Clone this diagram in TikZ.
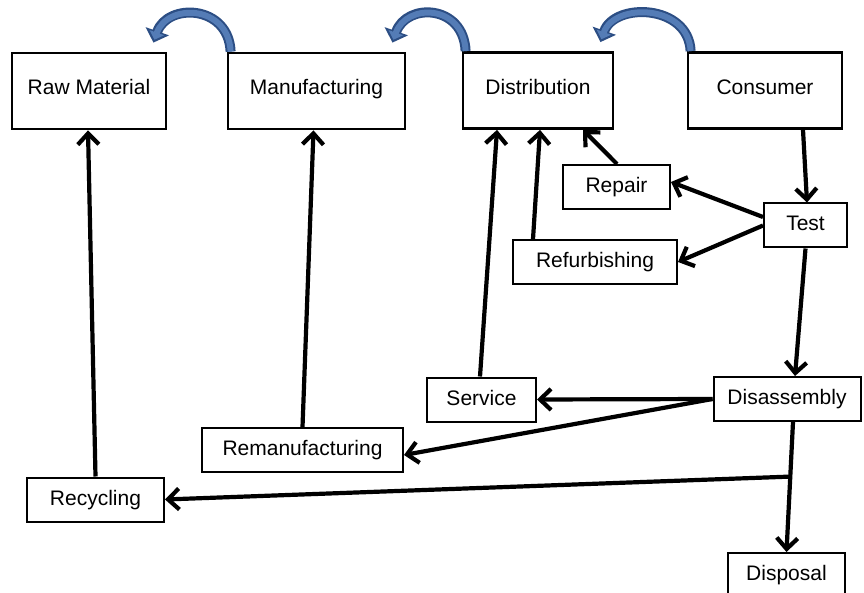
\documentclass[tikz,border=0pt]{standalone}
\usepackage{fontspec}
\setmainfont{Liberation Sans}
\usetikzlibrary{arrows.meta,calc}
\definecolor{arcfill}{RGB}{84,124,182}
\definecolor{arcedge}{RGB}{44,78,132}
\newcommand\lblfont{\fontsize{21}{24}\selectfont}
\begin{document}
\begin{tikzpicture}[x=1pt,y=-1pt,
  topbox/.style={draw,line width=2.8pt,minimum height=76pt,inner sep=0pt,
    text height=15pt,text depth=7pt,font=\lblfont},
  subbox/.style={draw,line width=2pt,minimum height=44pt,inner sep=0pt,
    text height=15pt,text depth=4pt,font=\lblfont},
  flow/.style={line width=4.2pt,-{Straight Barb[length=11pt,width=21pt]}},
  arcout/.style={draw=arcedge,line width=10pt,-{Triangle[length=12pt,width=24pt]}},
  arcin/.style={draw=arcfill,line width=6pt,shorten >=3pt,-{Triangle[length=7.5pt,width=15pt]}}]
\useasboundingbox (0,0) rectangle (864,593);

% stages of the forward chain
\node[topbox,minimum width=154pt] (raw)  at (89,91)    {Raw Material};
\node[topbox,minimum width=177pt] (manu) at (316.5,91) {Manufacturing};
\node[topbox,minimum width=150pt] (dist) at (538,90.5) {Distribution};
\node[topbox,minimum width=154pt] (cons) at (765,90.5) {Consumer};

% recovery options
\node[subbox,minimum width=107pt] (repair)  at (616.5,187)   {Repair};
\node[subbox,minimum width=83pt]  (test)    at (805.5,225.5) {Test};
\node[subbox,minimum width=164pt] (refurb)  at (595,262)     {Refurbishing};
\node[subbox,minimum width=109pt] (service) at (481.5,399.5) {Service};
\node[subbox,minimum width=147pt] (disasm)  at (787,399)     {Disassembly};
\node[subbox,minimum width=201pt] (reman)   at (302.5,450)   {Remanufacturing};
\node[subbox,minimum width=137pt] (recyc)   at (95.5,499.5)  {Recycling};
\node[subbox,minimum width=117pt] (disp)    at (786.5,575)   {Disposal};

% curved blue arrows along the top
\foreach \from/\to in {manu/raw, dist/manu, cons/dist}{
  \coordinate (s) at ([xshift=4pt]\from.north west);
  \coordinate (e) at ([xshift=-14pt,yshift=9pt]\to.north east);
  \draw[arcout] (s) .. controls +(-2,-47) and +(14,-40) .. (e);
  \draw[arcin]  (s) .. controls +(-2,-47) and +(14,-40) .. (e);
}

% return flows upward
\draw[flow] (recyc.north) -- ([xshift=-1pt]raw.south);
\draw[flow] (reman.north) -- ([xshift=-3pt]manu.south);
\draw[flow] ([xshift=-1.5pt]service.north) -- ([xshift=-41pt]dist.south);
\draw[flow] ([xshift=-62pt]refurb.north) -- ([xshift=2pt]dist.south);
\draw[flow] ([xshift=0.5pt]repair.north) -- ([xshift=45pt]dist.south);

% consumer to test and test outcomes
\draw[flow] ([xshift=38pt]cons.south) -- ([xshift=1.5pt]test.north);
\draw[flow] ([yshift=8.5pt]test.west) -- ([yshift=5pt]repair.east);
\draw[flow] (test.west) -- (refurb.east);
\draw[flow] (test.south) -- ([xshift=8pt]disasm.north);

% disassembly outcomes
\draw[flow] (disasm.west) -- (service.east);
\draw[flow] (disasm.west) -- ([yshift=-5pt]reman.east);
\draw[flow] ([xshift=6pt]disasm.south) -- (disp.north);
\coordinate (branch) at ($([xshift=6pt]disasm.south)!0.42!(disp.north)$);
\draw[flow] (branch) -- (recyc.east);
\end{tikzpicture}
\end{document}
